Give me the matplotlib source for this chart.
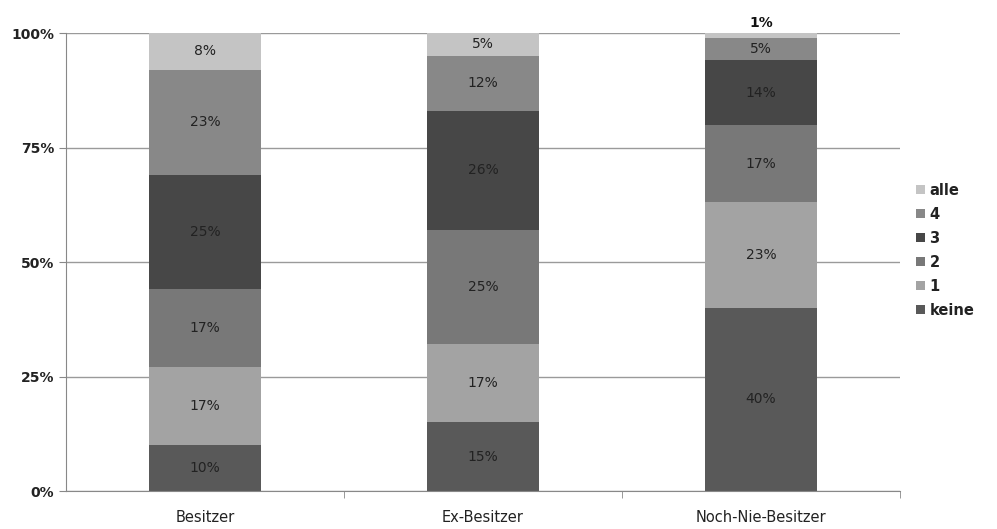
import matplotlib.pyplot as plt
import numpy as np

# Stacked shares per group (percent)
groups = ["Besitzer", "Ex-Besitzer", "Noch-Nie-Besitzer"]
series = ["keine", "1", "2", "3", "4", "alle"]
keine = [10, 15, 40]
eins = [17, 17, 23]
zwei = [17, 25, 17]
drei = [25, 26, 14]
vier = [23, 12, 5]
alle = [8, 5, 1]
values = [keine, eins, zwei, drei, vier, alle]
colors = ["#595959", "#a3a3a3", "#787878", "#474747", "#888888", "#c4c4c4"]
yticks = [0, 25, 50, 75, 100]

fig = plt.figure(figsize=(9.97, 5.29), dpi=100)
ax = fig.add_axes([0.0662, 0.0718, 0.8365, 0.8658])

x = np.arange(len(groups))
bottom = np.zeros(len(groups))
for name, vals, col in zip(series, values, colors):
    vals = np.array(vals, dtype=float)
    ax.bar(x, vals, 0.4, bottom=bottom, color=col, label=name, zorder=2)
    for xi, b, v in zip(x, bottom, vals):
        if v >= 3:
            ax.text(xi, b + v / 2, "%d%%" % v, ha="center", va="center",
                    fontsize=10, color="#222222", zorder=3)
        else:
            # tiny slice: label sits above the bar
            ax.text(xi, b + v + 0.6, "%d%%" % v, ha="center", va="bottom",
                    fontsize=10, fontweight="bold", color="#111111", zorder=3)
    bottom += vals

ax.set_xlim(-0.5, 2.5)
ax.set_ylim(0, 100)
ax.set_yticks(yticks)
ax.set_yticklabels(["%d%%" % t for t in yticks], fontsize=10, fontweight="bold",
                   color="#222222")
ax.yaxis.grid(True, color="#9a9a9a", linewidth=1, zorder=0)

ax.set_xticks(x)
ax.set_xticklabels(groups, fontsize=10.5, color="#222222")
ax.set_xticks([0.5, 1.5, 2.5], minor=True)
ax.tick_params(axis="x", which="major", length=0, pad=14)
ax.tick_params(axis="x", which="minor", length=5, color="#888888", direction="out")
ax.tick_params(axis="y", length=5, color="#888888", direction="out")

for s in ["top", "right"]:
    ax.spines[s].set_visible(False)
ax.spines["left"].set_color("#888888")
ax.spines["bottom"].set_color("#888888")

h, l = ax.get_legend_handles_labels()
leg = fig.legend(h[::-1], l[::-1], loc="center left", bbox_to_anchor=(0.906, 0.527),
                 frameon=False, handlelength=0.6, handleheight=0.6,
                 handletextpad=0.3, labelspacing=0.62, fontsize=10.5)
for t in leg.get_texts():
    t.set_fontweight("bold")
    t.set_color("#222222")

fig.savefig("out.png", dpi=100)
